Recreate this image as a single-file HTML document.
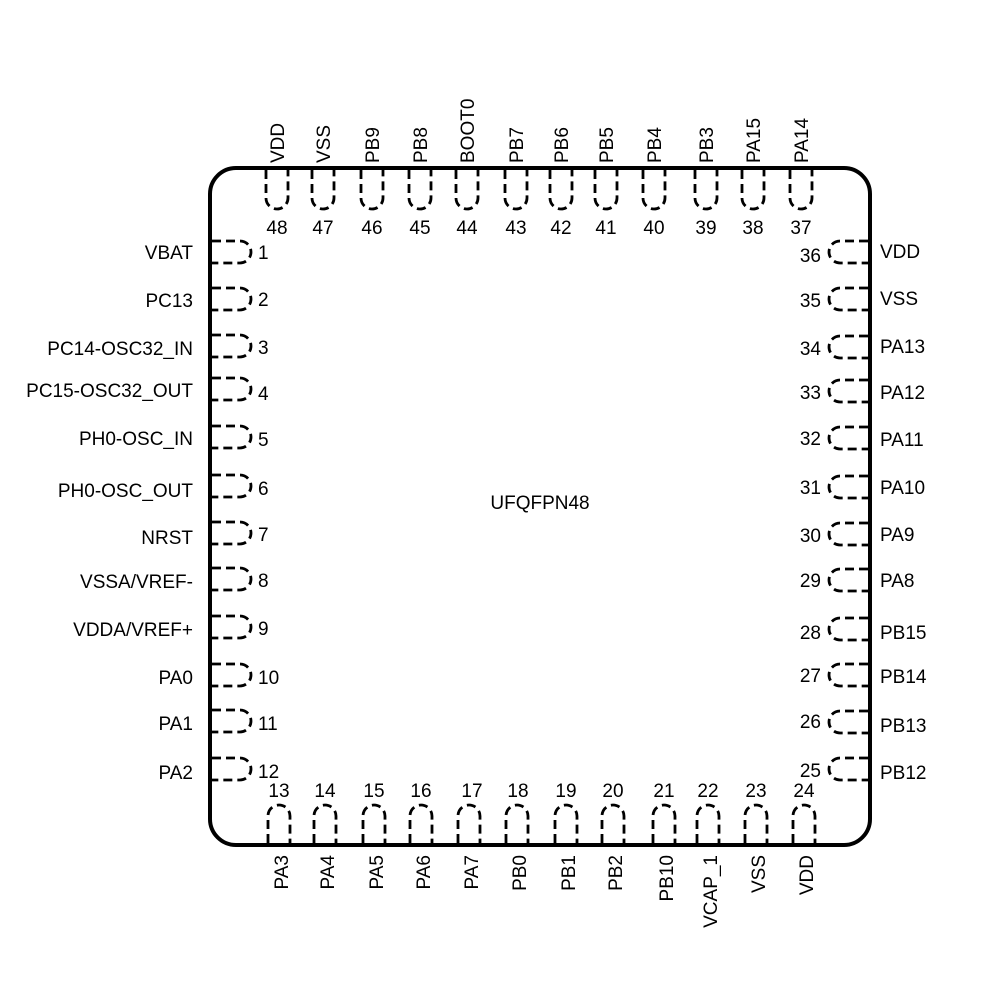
<!DOCTYPE html>
<html><head><meta charset="utf-8"><style>
html,body{margin:0;padding:0;background:#fff;}
svg{display:block;}
text{font-family:"Liberation Sans",Arial,sans-serif;font-size:19px;fill:#000;}
.p{fill:none;stroke:#000;stroke-width:2.8;stroke-dasharray:9 5;}
</style></head><body>
<svg width="1000" height="1000" viewBox="0 0 1000 1000" xmlns="http://www.w3.org/2000/svg">
<rect x="210" y="168" width="660" height="677" rx="26" ry="26" fill="none" stroke="#000" stroke-width="4"/>
<text x="540" y="509" text-anchor="middle">UFQFPN48</text>

<g>
<path class="p" d="M266,170V198A11,11 0 0 0 288,198V170"/>
<path class="p" d="M312,170V198A11,11 0 0 0 334,198V170"/>
<path class="p" d="M361,170V198A11,11 0 0 0 383,198V170"/>
<path class="p" d="M409,170V198A11,11 0 0 0 431,198V170"/>
<path class="p" d="M456,170V198A11,11 0 0 0 478,198V170"/>
<path class="p" d="M505,170V198A11,11 0 0 0 527,198V170"/>
<path class="p" d="M550,170V198A11,11 0 0 0 572,198V170"/>
<path class="p" d="M595,170V198A11,11 0 0 0 617,198V170"/>
<path class="p" d="M643,170V198A11,11 0 0 0 665,198V170"/>
<path class="p" d="M695,170V198A11,11 0 0 0 717,198V170"/>
<path class="p" d="M742,170V198A11,11 0 0 0 764,198V170"/>
<path class="p" d="M790,170V198A11,11 0 0 0 812,198V170"/>
</g>
<g text-anchor="middle">
<text x="277" y="234">48</text><text x="323" y="234">47</text><text x="372" y="234">46</text>
<text x="420" y="234">45</text><text x="467" y="234">44</text><text x="516" y="234">43</text>
<text x="561" y="234">42</text><text x="606" y="234">41</text><text x="654" y="234">40</text>
<text x="706" y="234">39</text><text x="753" y="234">38</text><text x="801" y="234">37</text>
</g>
<g text-anchor="start">
<text transform="translate(284,163) rotate(-90)">VDD</text>
<text transform="translate(330,163) rotate(-90)">VSS</text>
<text transform="translate(379,163) rotate(-90)">PB9</text>
<text transform="translate(427,163) rotate(-90)">PB8</text>
<text transform="translate(474,163) rotate(-90)">BOOT0</text>
<text transform="translate(523,163) rotate(-90)">PB7</text>
<text transform="translate(568,163) rotate(-90)">PB6</text>
<text transform="translate(613,163) rotate(-90)">PB5</text>
<text transform="translate(661,163) rotate(-90)">PB4</text>
<text transform="translate(713,163) rotate(-90)">PB3</text>
<text transform="translate(760,163) rotate(-90)">PA15</text>
<text transform="translate(808,163) rotate(-90)">PA14</text>
</g>

<g>
<path class="p" d="M268,843V816A11,11 0 0 1 290,816V843"/>
<path class="p" d="M314,843V816A11,11 0 0 1 336,816V843"/>
<path class="p" d="M363,843V816A11,11 0 0 1 385,816V843"/>
<path class="p" d="M410,843V816A11,11 0 0 1 432,816V843"/>
<path class="p" d="M458,843V816A11,11 0 0 1 480,816V843"/>
<path class="p" d="M506,843V816A11,11 0 0 1 528,816V843"/>
<path class="p" d="M555,843V816A11,11 0 0 1 577,816V843"/>
<path class="p" d="M602,843V816A11,11 0 0 1 624,816V843"/>
<path class="p" d="M653,843V816A11,11 0 0 1 675,816V843"/>
<path class="p" d="M697,843V816A11,11 0 0 1 719,816V843"/>
<path class="p" d="M745,843V816A11,11 0 0 1 767,816V843"/>
<path class="p" d="M793,843V816A11,11 0 0 1 815,816V843"/>
</g>
<g text-anchor="middle">
<text x="279" y="797">13</text><text x="325" y="797">14</text><text x="374" y="797">15</text>
<text x="421" y="797">16</text><text x="472" y="797">17</text><text x="518" y="797">18</text>
<text x="566" y="797">19</text><text x="613" y="797">20</text><text x="664" y="797">21</text>
<text x="708" y="797">22</text><text x="756" y="797">23</text><text x="804" y="797">24</text>
</g>
<g text-anchor="end">
<text transform="translate(288,855) rotate(-90)">PA3</text>
<text transform="translate(334,855) rotate(-90)">PA4</text>
<text transform="translate(383,855) rotate(-90)">PA5</text>
<text transform="translate(430,855) rotate(-90)">PA6</text>
<text transform="translate(478,855) rotate(-90)">PA7</text>
<text transform="translate(526,855) rotate(-90)">PB0</text>
<text transform="translate(575,855) rotate(-90)">PB1</text>
<text transform="translate(622,855) rotate(-90)">PB2</text>
<text transform="translate(673,855) rotate(-90)">PB10</text>
<text transform="translate(717,855) rotate(-90)">VCAP_1</text>
<text transform="translate(765,855) rotate(-90)">VSS</text>
<text transform="translate(813,855) rotate(-90)">VDD</text>
</g>

<g>
<path class="p" d="M212,241H240A11,11 0 0 1 240,263H212"/>
<path class="p" d="M212,288H240A11,11 0 0 1 240,310H212"/>
<path class="p" d="M212,335H240A11,11 0 0 1 240,357H212"/>
<path class="p" d="M212,378H240A11,11 0 0 1 240,400H212"/>
<path class="p" d="M212,426H240A11,11 0 0 1 240,448H212"/>
<path class="p" d="M212,475H240A11,11 0 0 1 240,497H212"/>
<path class="p" d="M212,522H240A11,11 0 0 1 240,544H212"/>
<path class="p" d="M212,568H240A11,11 0 0 1 240,590H212"/>
<path class="p" d="M212,616H240A11,11 0 0 1 240,638H212"/>
<path class="p" d="M212,664H240A11,11 0 0 1 240,686H212"/>
<path class="p" d="M212,710H240A11,11 0 0 1 240,732H212"/>
<path class="p" d="M212,758H240A11,11 0 0 1 240,780H212"/>
</g>
<g text-anchor="start">
<text x="258" y="259">1</text><text x="258" y="306">2</text><text x="258" y="354">3</text>
<text x="258" y="400">4</text><text x="258" y="446">5</text><text x="258" y="495">6</text>
<text x="258" y="541">7</text><text x="258" y="587">8</text><text x="258" y="635">9</text>
<text x="258" y="684">10</text><text x="258" y="730">11</text><text x="258" y="778">12</text>
</g>
<g text-anchor="end">
<text x="193" y="259">VBAT</text><text x="193" y="307">PC13</text>
<text x="193" y="355">PC14-OSC32_IN</text><text x="193" y="397">PC15-OSC32_OUT</text>
<text x="193" y="445">PH0-OSC_IN</text><text x="193" y="497">PH0-OSC_OUT</text>
<text x="193" y="544">NRST</text><text x="193" y="588">VSSA/VREF-</text>
<text x="193" y="636">VDDA/VREF+</text><text x="193" y="684">PA0</text>
<text x="193" y="730">PA1</text><text x="193" y="779">PA2</text>
</g>

<g>
<path class="p" d="M868,241H840A11,11 0 0 0 840,263H868"/>
<path class="p" d="M868,288H840A11,11 0 0 0 840,310H868"/>
<path class="p" d="M868,336H840A11,11 0 0 0 840,358H868"/>
<path class="p" d="M868,380H840A11,11 0 0 0 840,402H868"/>
<path class="p" d="M868,427H840A11,11 0 0 0 840,449H868"/>
<path class="p" d="M868,476H840A11,11 0 0 0 840,498H868"/>
<path class="p" d="M868,523H840A11,11 0 0 0 840,545H868"/>
<path class="p" d="M868,569H840A11,11 0 0 0 840,591H868"/>
<path class="p" d="M868,618H840A11,11 0 0 0 840,640H868"/>
<path class="p" d="M868,664H840A11,11 0 0 0 840,686H868"/>
<path class="p" d="M868,711H840A11,11 0 0 0 840,733H868"/>
<path class="p" d="M868,758H840A11,11 0 0 0 840,780H868"/>
</g>
<g text-anchor="end">
<text x="821" y="262">36</text><text x="821" y="307">35</text><text x="821" y="355">34</text>
<text x="821" y="399">33</text><text x="821" y="445">32</text><text x="821" y="494">31</text>
<text x="821" y="542">30</text><text x="821" y="587">29</text><text x="821" y="639">28</text>
<text x="821" y="682">27</text><text x="821" y="728">26</text><text x="821" y="777">25</text>
</g>
<g text-anchor="start">
<text x="880" y="258">VDD</text><text x="880" y="305">VSS</text>
<text x="880" y="353">PA13</text><text x="880" y="399">PA12</text>
<text x="880" y="446">PA11</text><text x="880" y="494">PA10</text>
<text x="880" y="541">PA9</text><text x="880" y="587">PA8</text>
<text x="880" y="639">PB15</text><text x="880" y="683">PB14</text>
<text x="880" y="732">PB13</text><text x="880" y="779">PB12</text>
</g>
</svg>
</body></html>
